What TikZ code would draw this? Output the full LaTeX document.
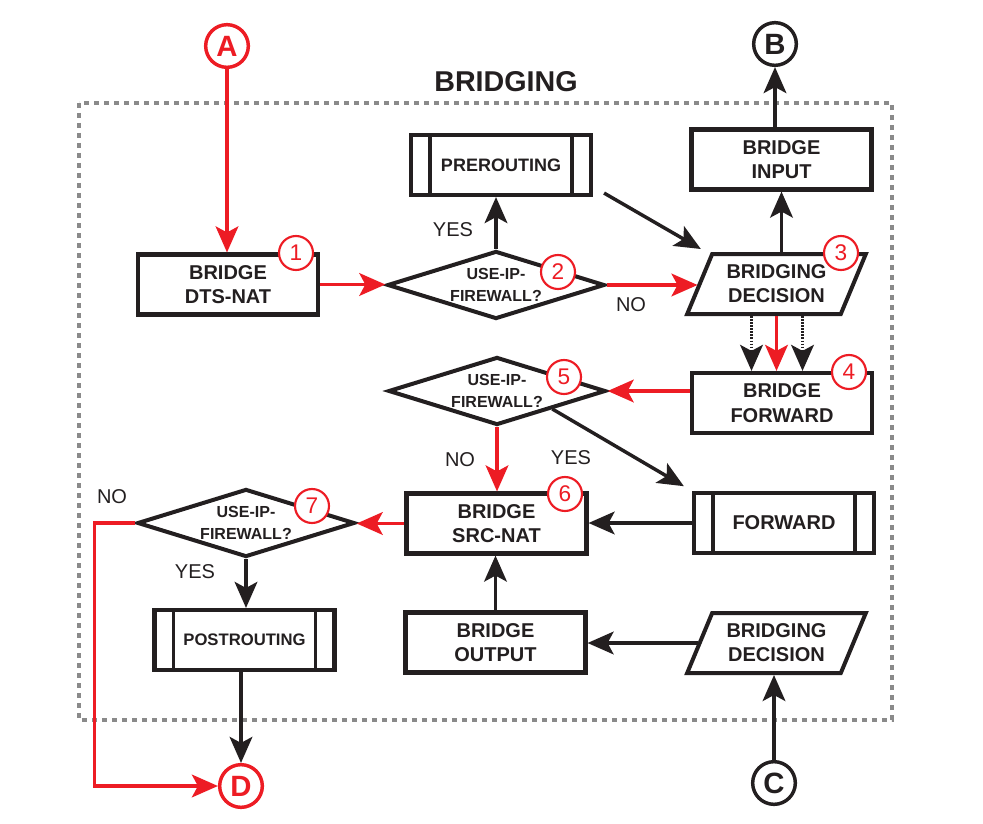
\documentclass[tikz,border=0pt]{standalone}
\usepackage{fontspec}
\setmainfont{Liberation Sans}
\usetikzlibrary{arrows.meta,shapes.geometric,calc}

\definecolor{fwred}{HTML}{ED1C24}
\definecolor{fwink}{HTML}{231F20}
\definecolor{fwgray}{HTML}{8A8A8A}

\tikzset{every picture/.style={line width=0.75pt}}
\tikzset{
  box/.style={draw=fwink, line width=3.1pt, fill=white, minimum width=135pt, minimum height=45pt, inner sep=0pt, align=center, text=fwink, font=\bfseries\fontsize{15}{18.5}\selectfont},
  subbox/.style={box, path picture={
      \draw[fwink, line width=2.8pt] ([xshift=14.25pt]path picture bounding box.north west) -- ([xshift=14.25pt]path picture bounding box.south west)
        ([xshift=-14.25pt]path picture bounding box.north east) -- ([xshift=-14.25pt]path picture bounding box.south east);}},
  choice/.style={diamond, draw=fwink, line width=3pt, fill=white, aspect=3.1, minimum width=163pt, minimum height=51pt, inner sep=0pt, align=center, text=fwink, font=\bfseries\fontsize{12}{16.5}\selectfont},
  decide/.style={trapezium, trapezium left angle=63, trapezium right angle=117, trapezium stretches=true, draw=fwink, line width=3pt, fill=white, minimum width=134pt, minimum height=45pt, inner sep=0pt, align=center, text=fwink, font=\bfseries\fontsize{15}{18}\selectfont},
  stepnum/.style={circle, draw=fwred, fill=white, line width=1.6pt, minimum size=25.5pt, inner sep=0pt, text=fwred, font=\fontsize{17}{17}\selectfont},
  port/.style={circle, draw=fwink, line width=2.6pt, fill=white, minimum size=32pt, inner sep=0pt, text=fwink, font=\bfseries\fontsize{22}{22}\selectfont},
  answer/.style={inner sep=0pt, text=fwink, font=\fontsize{15}{15}\selectfont},
  flow/.style={color=fwink, line width=2.6pt, -{Stealth[length=19.5pt,width=17pt,inset=4.5pt]}},
  redflow/.style={flow, color=fwred},
  dotflow/.style={flow, dash pattern=on 1.2pt off 1.1pt}
}

\begin{document}
\begin{tikzpicture}[x=0.75pt,y=0.75pt,yscale=-1,xscale=1]
\useasboundingbox (0,0) rectangle (983,824);

%Shape: Frame
\draw[fwgray, line width=2.6pt, dash pattern=on 4pt off 3.5pt] (79,103) rectangle (892,720);
% Text Node
\node (title) at (506,82) [text=fwink, font=\bfseries\fontsize{21.5}{21.5}\selectfont] {BRIDGING};

%Shape: Ports
\node (porta) at (227,46) [port, draw=fwred, text=fwred] {A};
\node (portb) at (775,44) [port] {B};
\node (portc) at (774,783) [port] {C};
\node (portd) at (241,786) [port, draw=fwred, text=fwred] {D};

%Shape: Boxes
\node (dts) at (228,284.5) [box] {BRIDGE\\DTS-NAT};
\node (pre) at (501,165) [subbox, font=\bfseries\fontsize{13.5}{13.5}\selectfont] {PREROUTING};
\node (bi) at (781.5,159.5) [box] {BRIDGE\\INPUT};
\node (bd1) at (776.5,284) [decide] {BRIDGING\\DECISION};
\node (bf) at (782,403) [box] {BRIDGE\\FORWARD};
\node (fwd) at (784,523) [subbox] {FORWARD};
\node (src) at (496.5,523.5) [box] {BRIDGE\\SRC-NAT};
\node (post) at (244.5,640) [subbox, font=\bfseries\fontsize{12.5}{12.5}\selectfont] {POSTROUTING};
\node (bo) at (495.5,642.5) [box] {BRIDGE\\OUTPUT};
\node (bd2) at (776.5,643) [decide] {BRIDGING\\DECISION};

%Shape: Diamonds
\node (d2) at (496,285) [choice] {USE-IP-\\FIREWALL?};
\node (d5) at (497,391) [choice] {USE-IP-\\FIREWALL?};
\node (d7) at (246,523) [choice] {USE-IP-\\FIREWALL?};

%Straight Lines
\draw[redflow] (porta.south) -- (porta.south |- dts.north);
\draw[redflow] (dts.east) -- (dts.east -| d2.west);
\draw[flow] (d2.north) -- (d2.north |- pre.south);
\draw[flow] ($(pre.south east)+(11,-4)$) -- ($(bd1.top left corner)+(-10,-3)$);
\draw[redflow] (d2.east) -- (d2.east -| bd1.west);
\draw[flow] (bi.south |- bd1.north) -- (bi.south);
\draw[flow] (portb |- bi.north) -- (portb.south);
\draw[redflow] (bd1.south) -- (bd1.south |- bf.north);
\foreach \dx in {-25,26}
  \draw[dotflow] ($(bd1.south)+(\dx,0)$) -- ($(bd1.south |- bf.north)+(\dx,0)$);
\draw[redflow] (bf.west |- d5.east) -- (d5.east);
\draw[redflow] (d5.south) -- (d5.south |- src.north);
\draw[flow, shorten >=7pt] (d5.south east) -- (fwd.north west);
\draw[flow] (fwd.west) -- (fwd.west -| src.east);
\draw[redflow] (src.west) -- (src.west -| d7.east);
\draw[flow] (d7.south) -- (d7.south |- post.north);
\draw[flow] (portd |- post.south) -- (portd.north);
\draw[redflow] (d7.west) -- ++(-41,0) |- (portd.west);
\draw[flow] (bo.north) -- (bo.north |- src.south);
\draw[flow] (bd2.west) -- (bd2.west -| bo.east);
\draw[flow] (portc.north) -- (portc.north |- bd2.south);

% Text Node
\node (yes2) at (453,230) [answer] {YES};
\node (no2) at (631,305) [answer] {NO};
\node (no5) at (460,460) [answer] {NO};
\node (yes5) at (571,458) [answer] {YES};
\node (no7) at (112,497) [answer] {NO};
\node (yes7) at (195,572) [answer] {YES};

%Shape: Step numbers
\node (s1) at (296,253) [stepnum] {1};
\node (s2) at (558,272) [stepnum] {2};
\node (s3) at (841,253) [stepnum] {3};
\node (s4) at (849,372) [stepnum] {4};
\node (s5) at (564,377) [stepnum] {5};
\node (s6) at (565,494) [stepnum] {6};
\node (s7) at (312,506) [stepnum] {7};

\end{tikzpicture}
\end{document}
